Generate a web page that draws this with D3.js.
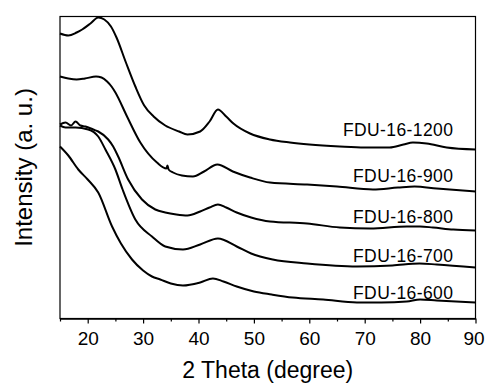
<!DOCTYPE html>
<html>
<head>
<meta charset="utf-8">
<script src="https://cdn.jsdelivr.net/npm/d3@7"></script>
<style>
body { margin: 0; background: #fff; }
text { font-family: "Liberation Sans", Arial, sans-serif; fill: #000; }
</style>
</head>
<body>
<div id="chart-area"></div>
<script>
// XRD curves: [2 theta, intensity (a.u.)]
const fdu1200 = [[15,285],[16.5,283],[18,286],[19,289],[20.5,295],[21.9,301],[23,299],[24.2,292],[25.2,281],[26.9,256],[28.6,232],[30.2,213],[31.9,202],[34,193],[36.5,187],[38,184],[40.3,187],[42,197],[43.5,209],[45,202],[46.3,195],[49.3,185],[52.9,179],[56.5,176],[60,174],[65.5,172],[70,171],[74.5,171],[77,174],[78.7,176],[81.2,175],[84.8,171],[90,169]];
const fdu900 = [[15,242],[16.5,240],[18,239],[19.5,240],[21.5,242],[22.5,241],[23.5,237],[24.3,232],[25,226],[27.1,202],[29.5,176],[32.5,156],[34.2,150],[34.4,153],[34.6,149],[35.4,146],[37,143],[39,142],[41,147],[43.4,154],[46.2,147],[49.3,141],[52.9,136],[59.6,134],[65,132],[71.5,129],[76,131],[79,132],[83,130],[90,127]];
const fdu800 = [[15,194],[16,196],[17,193],[17.8,197],[18.7,193],[19.6,192],[21,189],[21.9,187],[23.7,179],[24.6,172],[25.5,162],[27.3,139],[29.8,119],[32.2,109],[34,106],[36,104],[38,103],[40.3,107],[42,111],[43.5,114],[45,111],[46.9,106],[49.5,101],[52.9,97],[59.6,95],[65.5,91],[71,90],[77.6,92],[80,92],[82.3,91],[86,89],[90,88]];
const fdu700 = [[15,193],[16,191],[17.8,191],[20.1,189],[21.9,182],[23.2,169],[25,149],[26.3,129],[28.6,99],[31.6,82],[34,72],[37.2,69],[40.3,74],[43.5,80],[46.9,72],[49.5,65],[53.4,59],[59.6,55],[68.6,52],[75,53],[79.9,55],[83,54],[90,51]];
const fdu600 = [[15,172],[16.5,163],[18.3,149],[20,139],[21.9,126],[24.4,92],[26,75],[28,59],[30,48],[31.6,42],[33.1,39],[35,35],[37.2,33],[40.3,36],[42.6,40],[44.5,37],[46.9,32],[50,27],[53.2,24],[57,21],[62.5,19],[68.6,16],[73,16],[77.6,17],[80,19],[83,18],[90,16]];

const sampleNames = ["FDU-16-1200", "FDU-16-900", "FDU-16-800", "FDU-16-700", "FDU-16-600"];
const labelLevels = [183, 137, 96, 57, 20]; // intensity where each name sits
const labelAt = 86; // 2 theta where the names end
const xTicks = [20, 30, 40, 50, 60, 70, 80, 90];
const xMinorTicks = [15, 25, 35, 45, 55, 65, 75, 85];

const allCurves = [fdu1200, fdu900, fdu800, fdu700, fdu600];

const margin = {top: 16.5, right: 9.5, bottom: 67.5, left: 60};
const width = 485 - margin.left - margin.right;
const height = 386 - margin.top - margin.bottom;

let svg = d3.select("#chart-area")
	.append("svg")
	.attr("width", 485)
	.attr("height", 386);

let group = svg.append("g")
	.attr("transform", `translate(${margin.left}, ${margin.top})`);

let x = d3.scaleLinear().domain([15, 90]).range([0, width]);
let y = d3.scaleLinear().domain([0, 302]).range([height, 0]);

// frame
group.append("rect")
	.attr("width", width)
	.attr("height", height)
	.attr("fill", "none")
	.attr("stroke", "#000")
	.attr("stroke-width", 1.2);

// x axis, major + minor ticks
const axisMajor = d3.axisBottom(x).tickValues(xTicks).tickSize(5).tickSizeOuter(0).tickPadding(8);
const axisMinor = d3.axisBottom(x).tickValues(xMinorTicks).tickSize(3).tickSizeOuter(0).tickFormat("");

const xGroup = group.append("g").attr("transform", `translate(0, ${height})`).call(axisMajor);
group.append("g").attr("transform", `translate(0, ${height})`).call(axisMinor);

group.selectAll(".domain").attr("stroke", "#000").attr("stroke-width", 1.2);
group.selectAll(".tick line").attr("stroke", "#000").attr("stroke-width", 1.2);
xGroup.selectAll("text")
	.attr("font-size", "19px")
	.attr("fill", "#000")
	.style("font-family", "'Liberation Sans', Arial, sans-serif");
// last label sits on the page edge, nudge it in
xGroup.selectAll(".tick").filter(d => d === 90).select("text").attr("dx", "-2px");

// curves
const line = d3.line()
	.x(d => x(d[0]))
	.y(d => y(d[1]))
	.curve(d3.curveMonotoneX);

group.selectAll("path.curve")
	.data(allCurves)
	.enter().append("path")
	.attr("class", "curve")
	.attr("d", line)
	.attr("fill", "none")
	.attr("stroke", "#000")
	.attr("stroke-width", 2)
	.attr("stroke-linejoin", "round");

// sample names
group.selectAll("text.name")
	.data(sampleNames)
	.enter().append("text")
	.attr("class", "name")
	.attr("x", x(labelAt))
	.attr("y", (d, i) => y(labelLevels[i]))
	.attr("text-anchor", "end")
	.attr("font-size", "17.5px")
	.attr("letter-spacing", "0.4px")
	.text(d => d);

// axis titles
svg.append("text")
	.attr("x", margin.left + width / 2)
	.attr("y", 378)
	.attr("text-anchor", "middle")
	.attr("font-size", "23px")
	.text("2 Theta (degree)");

svg.append("text")
	.attr("transform", `translate(32, ${margin.top + height / 2}) rotate(-90)`)
	.attr("text-anchor", "middle")
	.attr("font-size", "24px")
	.text("Intensity (a. u.)");
</script>
</body>
</html>
